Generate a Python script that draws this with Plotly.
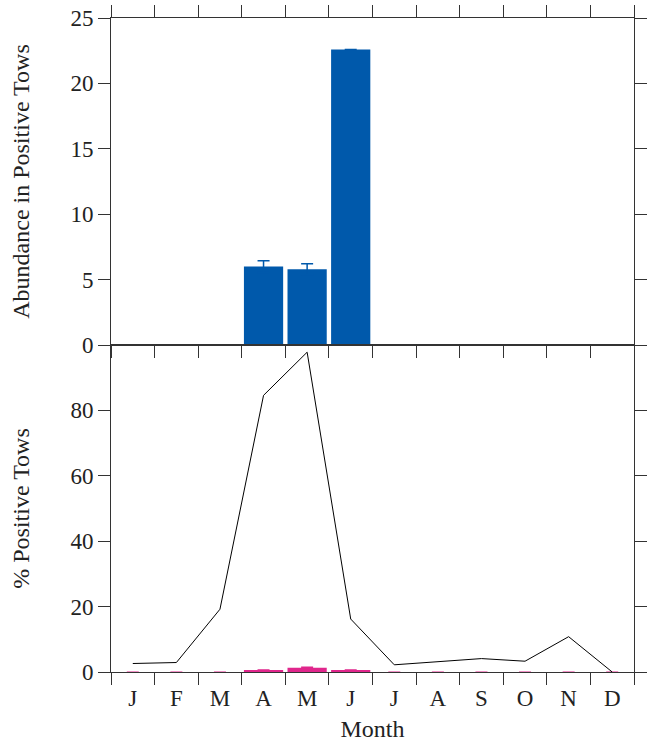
import plotly.graph_objects as go
from plotly.subplots import make_subplots

months = ["J", "F", "M", "A", "M", "J", "J", "A", "S", "O", "N", "D"]
month_pos = list(range(1, 13))

abund_pos = [0, 0, 0, 6.0, 5.8, 22.6, 0, 0, 0, 0, 0, 0]
abund_pos_err = [0, 0, 0, 0.45, 0.42, 0, 0, 0, 0, 0, 0, 0]

pct_pos = [2.6, 2.9, 19.2, 84.6, 97.8, 16.2, 2.2, 3.2, 4.1, 3.3, 10.8, 0]
abund_all = [0, 0, 0, 0.6, 1.3, 0.6, 0, 0, 0, 0, 0, 0]
abund_all_err = [0, 0, 0, 0.08, 0.2, 0.08, 0, 0, 0, 0, 0, 0]

boundaries = [m + 0.5 for m in range(0, 13)]

BLUE = "#0059AB"
PINK = "#E0268C"
AX = "#333333"
FONT = "Liberation Serif"
FS = 23
TFS = 24

fig = make_subplots(rows=2, cols=1, shared_xaxes=False, vertical_spacing=0)

fig.add_trace(go.Bar(x=month_pos, y=abund_pos, width=0.9, marker=dict(color=BLUE, line=dict(width=0)),
                     error_y=dict(type="data", array=abund_pos_err, color=BLUE, thickness=1.5, width=6),
                     showlegend=False), row=1, col=1)

fig.add_trace(go.Bar(x=month_pos, y=abund_all, width=0.9, marker=dict(color=PINK, line=dict(width=0)),
                     error_y=dict(type="data", array=abund_all_err, color=PINK, thickness=1.2, width=6),
                     showlegend=False), row=2, col=1)
fig.add_trace(go.Scatter(x=month_pos, y=pct_pos, mode="lines", line=dict(color="black", width=1),
                         showlegend=False), row=2, col=1)

common_y = dict(showline=True, linecolor=AX, linewidth=1, ticks="outside", ticklen=12,
                tickcolor=AX, mirror="ticks", showgrid=False, zeroline=False, automargin=False,
                ticklabeloverflow="allow",
                tickfont=dict(family=FONT, size=FS, color="#222"),
                title_font=dict(family=FONT, size=TFS, color="#222"))

fig.update_yaxes(range=[0, 25], tickvals=[0, 5, 10, 15, 20, 25], title_text="Abundance in Positive Tows",
                 title_standoff=34, row=1, col=1, **common_y)
fig.update_yaxes(range=[0, 100], tickvals=[0, 20, 40, 60, 80, 100], ticktext=["0", "20", "40", "60", "80", ""],
                 title_text="% Positive Tows", title_standoff=34, row=2, col=1, **common_y)

fig.update_xaxes(range=[0.5, 12.5], tickvals=boundaries, ticks="outside", ticklen=12, tickcolor=AX,
                 showticklabels=False, showline=True, linecolor=AX, linewidth=1, mirror="ticks",
                 showgrid=False, zeroline=False, automargin=False, row=1, col=1)
fig.update_xaxes(range=[0.5, 12.5], tickvals=month_pos, ticktext=months, ticks="",
                 minor=dict(tickvals=boundaries, ticks="outside", ticklen=12, tickcolor=AX),
                 showline=True, linecolor=AX, linewidth=1, mirror=True,
                 showgrid=False, zeroline=False, automargin=False,
                 ticklabelstandoff=5,
                 tickfont=dict(family=FONT, size=FS, color="#222"),
                 title_text="Month", title_font=dict(family=FONT, size=TFS, color="#222"),
                 title_standoff=10, row=2, col=1)

fig.update_layout(width=650, height=742, margin=dict(l=111, r=16, t=18, b=70),
                  plot_bgcolor="white", paper_bgcolor="white", bargap=0.1,
                  font=dict(family=FONT, size=FS, color="#222"))

fig.write_html("out.html", config={"displayModeBar": False},
               post_script="document.body.style.margin='0px';")
